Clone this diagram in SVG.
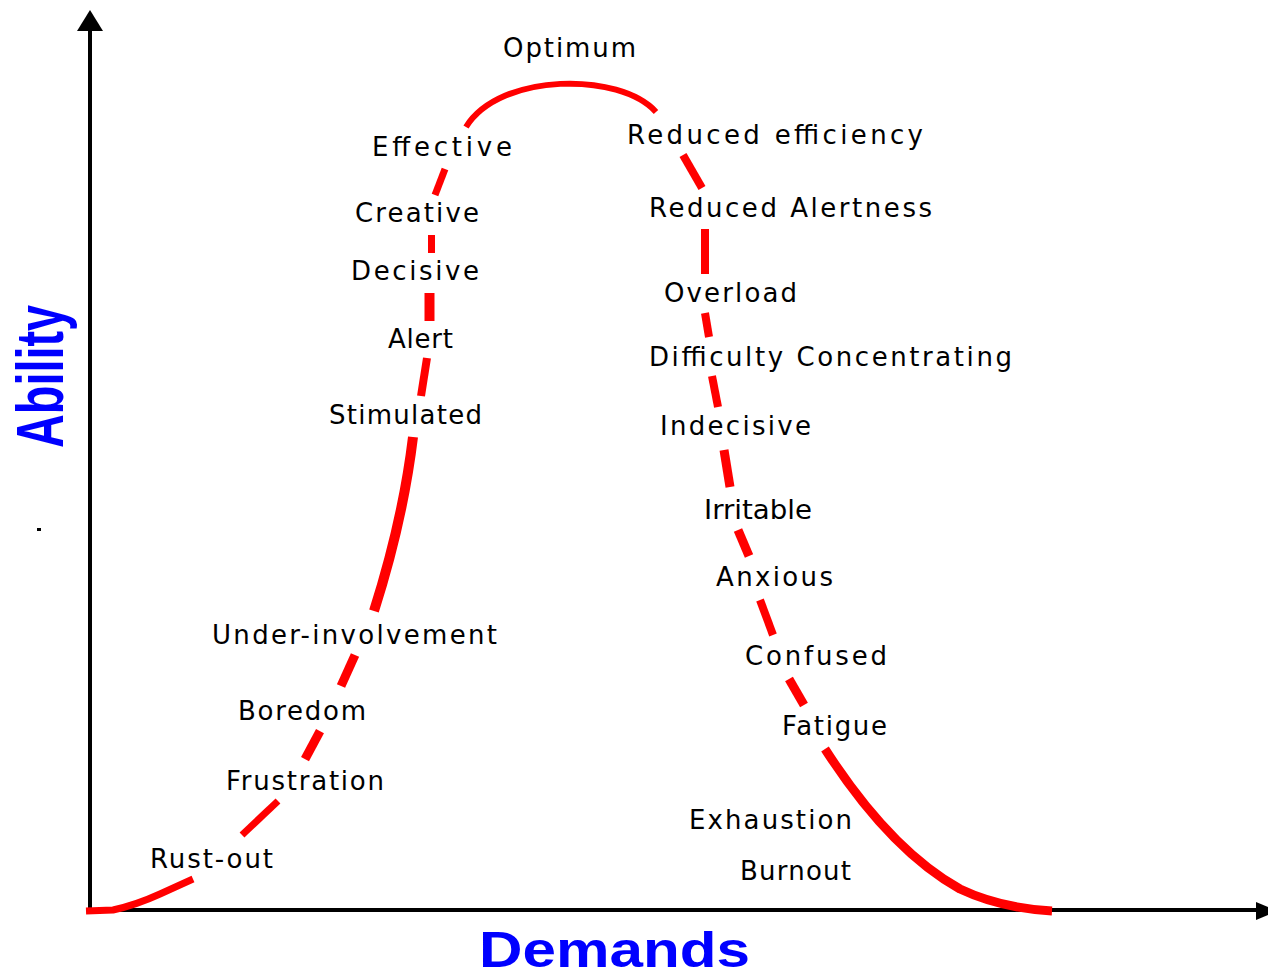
<svg xmlns="http://www.w3.org/2000/svg" width="1268" height="978" viewBox="0 0 1268 978">
  <style>
    .lbl { font-family: "DejaVu Sans", "Liberation Sans", sans-serif; font-size: 26px; fill: #000; }
    .axis-title { font-family: "Liberation Sans", Arial, sans-serif; font-weight: bold; fill: #0000ff; }
    .curve { fill: none; stroke: #ff0000; stroke-linecap: butt; stroke-linejoin: round; }
    .axis { stroke: #000; stroke-width: 4; fill: none; }
  </style>
  <rect width="1268" height="978" fill="#fff"/>

  <!-- axes -->
  <g id="axes">
    <line class="axis" x1="90" y1="28" x2="90" y2="912"/>
    <line class="axis" x1="88" y1="910" x2="1258" y2="910"/>
    <polygon points="90,10 77,31 103,31" fill="#000"/>
    <polygon points="1256,902 1268,907 1268,915 1256,920" fill="#000"/>
    <rect x="37" y="528" width="4" height="3" fill="#000"/>
  </g>

  <!-- axis titles -->
  <text id="ability" class="axis-title" font-size="67" textLength="143" lengthAdjust="spacingAndGlyphs" transform="translate(63,448) rotate(-90)">Ability</text>
  <text id="demands" class="axis-title" x="479" y="967" font-size="50" textLength="271" lengthAdjust="spacingAndGlyphs">Demands</text>

  <!-- curve segments between stages -->
  <g id="connectors">
    <path class="curve" stroke-width="7" d="M86,911 L113,910 Q136,905 160,894 L193,879"/>
    <line class="curve" stroke-width="7" x1="278" y1="801" x2="242" y2="835"/>
    <line class="curve" stroke-width="9" x1="320" y1="731" x2="305" y2="759"/>
    <line class="curve" stroke-width="9" x1="355" y1="655" x2="341" y2="686"/>
    <path class="curve" stroke-width="10" d="M413,437 Q403,520 374,611"/>
    <line class="curve" stroke-width="8" x1="427" y1="358" x2="421" y2="396"/>
    <line class="curve" stroke-width="10" x1="429.5" y1="293" x2="429.5" y2="321"/>
    <line class="curve" stroke-width="7" x1="431.5" y1="235" x2="431.5" y2="253"/>
    <line class="curve" stroke-width="7" x1="445" y1="169" x2="435" y2="195"/>
    <path class="curve" stroke-width="6" d="M466,127 C500,72 620,72 656,112"/>
    <line class="curve" stroke-width="8" x1="683" y1="155" x2="702" y2="188"/>
    <line class="curve" stroke-width="8" x1="705" y1="229" x2="705" y2="274"/>
    <line class="curve" stroke-width="8" x1="705" y1="313" x2="709" y2="337"/>
    <line class="curve" stroke-width="8" x1="712" y1="376" x2="718" y2="407"/>
    <line class="curve" stroke-width="9" x1="724" y1="450" x2="730" y2="487"/>
    <line class="curve" stroke-width="9" x1="738" y1="530" x2="749" y2="556"/>
    <line class="curve" stroke-width="8" x1="760" y1="600" x2="773" y2="635"/>
    <line class="curve" stroke-width="9" x1="789" y1="679" x2="804" y2="705"/>
    <path class="curve" stroke-width="9" d="M825,749 Q890,850 960,889 Q1000,908 1052,911"/>
  </g>

  <!-- stage labels, rising side -->
  <g id="n-rust-out"><text class="lbl" x="150" y="868" textLength="123" lengthAdjust="spacing">Rust-out</text></g>
  <g id="n-frustration"><text class="lbl" x="226" y="790" textLength="158" lengthAdjust="spacing">Frustration</text></g>
  <g id="n-boredom"><text class="lbl" x="238" y="720" textLength="128" lengthAdjust="spacing">Boredom</text></g>
  <g id="n-under-involvement"><text class="lbl" x="212" y="644" textLength="285" lengthAdjust="spacing">Under-involvement</text></g>
  <g id="n-stimulated"><text class="lbl" x="329" y="424" textLength="153" lengthAdjust="spacing">Stimulated</text></g>
  <g id="n-alert"><text class="lbl" x="388" y="348" textLength="65" lengthAdjust="spacing">Alert</text></g>
  <g id="n-decisive"><text class="lbl" x="351" y="280" textLength="128" lengthAdjust="spacing">Decisive</text></g>
  <g id="n-creative"><text class="lbl" x="355" y="222" textLength="124" lengthAdjust="spacing">Creative</text></g>
  <g id="n-effective"><text class="lbl" x="372" y="156" textLength="140" lengthAdjust="spacing">Effective</text></g>
  <g id="n-optimum"><text class="lbl" x="503" y="57" textLength="133" lengthAdjust="spacing">Optimum</text></g>

  <!-- stage labels, falling side -->
  <g id="n-reduced-efficiency"><text class="lbl" x="627" y="144" textLength="296" lengthAdjust="spacing">Reduced efficiency</text></g>
  <g id="n-reduced-alertness"><text class="lbl" x="649" y="217" textLength="283" lengthAdjust="spacing">Reduced Alertness</text></g>
  <g id="n-overload"><text class="lbl" x="664" y="302" textLength="133" lengthAdjust="spacing">Overload</text></g>
  <g id="n-difficulty"><text class="lbl" x="649" y="366" textLength="363" lengthAdjust="spacing">Difficulty Concentrating</text></g>
  <g id="n-indecisive"><text class="lbl" x="660" y="435" textLength="151" lengthAdjust="spacing">Indecisive</text></g>
  <g id="n-irritable"><text class="lbl" x="704" y="519" font-size="30" textLength="108" lengthAdjust="spacingAndGlyphs">Irritable</text></g>
  <g id="n-anxious"><text class="lbl" x="716" y="586" textLength="117" lengthAdjust="spacing">Anxious</text></g>
  <g id="n-confused"><text class="lbl" x="745" y="665" textLength="142" lengthAdjust="spacing">Confused</text></g>
  <g id="n-fatigue"><text class="lbl" x="782" y="735" textLength="105" lengthAdjust="spacing">Fatigue</text></g>
  <g id="n-exhaustion"><text class="lbl" x="689" y="829" textLength="163" lengthAdjust="spacing">Exhaustion</text></g>
  <g id="n-burnout"><text class="lbl" x="740" y="880" textLength="111" lengthAdjust="spacing">Burnout</text></g>
</svg>
